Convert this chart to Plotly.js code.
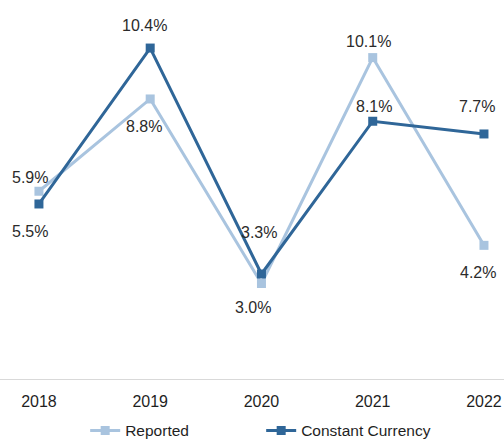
<!DOCTYPE html>
<html>
<head>
<meta charset="utf-8">
<script src="https://cdn.plot.ly/plotly-3.0.1.min.js"></script>
<style>html,body{margin:0;padding:0;background:#fff}#chart{width:504px;height:440px}</style>
</head>
<body>
<div id="chart"></div>
<script>
// Data
const years = ['2018', '2019', '2020', '2021', '2022'];
const reported = [5.9, 8.8, 3.0, 10.1, 4.2];
const constantCurrency = [5.5, 10.4, 3.3, 8.1, 7.7];
const seriesNames = ['Reported', 'Constant Currency'];

// Label offsets (styling, px: [dx, dy] with dy downward)
const repOffsets = [[-9, -14], [-6, 28], [-8, 24], [-4, -16], [-6, 27]];
const ccOffsets = [[-9, 28], [-6, -23], [-2, -41], [1, -15], [-7, -27]];

const lightBlue = '#a9c4df';
const darkBlue = '#2f6698';

const traces = [
  {
    x: years, y: reported, name: seriesNames[0], type: 'scatter', mode: 'lines+markers',
    line: {color: lightBlue, width: 3}, marker: {symbol: 'square', size: 9, color: lightBlue},
    hoverinfo: 'skip'
  },
  {
    x: years, y: constantCurrency, name: seriesNames[1], type: 'scatter', mode: 'lines+markers',
    line: {color: darkBlue, width: 3}, marker: {symbol: 'square', size: 9, color: darkBlue},
    hoverinfo: 'skip'
  }
];

const annotations = [];
function addLabels(vals, offs) {
  vals.forEach((v, i) => {
    annotations.push({
      x: i, y: v, xref: 'x', yref: 'y', text: v.toFixed(1) + '%',
      showarrow: false, xshift: offs[i][0], yshift: -offs[i][1],
      font: {family: 'Liberation Sans, Arial, sans-serif', size: 16, color: '#2b2b2b'}
    });
  });
}
addLabels(reported, repOffsets);
addLabels(constantCurrency, ccOffsets);

const layout = {
  width: 504, height: 440,
  margin: {l: 0, r: 0, t: 0, b: 61, autoexpand: false},
  paper_bgcolor: '#ffffff', plot_bgcolor: '#ffffff',
  showlegend: true,
  font: {family: 'Liberation Sans, Arial, sans-serif', size: 16, color: '#1f1f1f'},
  xaxis: {
    type: 'category', range: [-0.35, 4.18], showgrid: false, zeroline: false,
    showline: true, linecolor: '#d9d9d9', linewidth: 1,
    ticks: 'outside', ticklen: 8, tickcolor: 'rgba(0,0,0,0)',
    tickfont: {size: 16, color: '#1f1f1f'}, fixedrange: true
  },
  yaxis: {
    range: [0, 11.91], visible: false, showgrid: false, zeroline: false, fixedrange: true
  },
  legend: {
    orientation: 'h', x: 0.169, xanchor: 'left', y: -0.092, yanchor: 'top',
    font: {size: 15.5, color: '#1f1f1f'}, entrywidth: 131, itemwidth: 30,
    bgcolor: 'rgba(0,0,0,0)'
  },
  annotations: annotations
};

Plotly.newPlot('chart', traces, layout, {displayModeBar: false, staticPlot: true});
</script>
</body>
</html>
